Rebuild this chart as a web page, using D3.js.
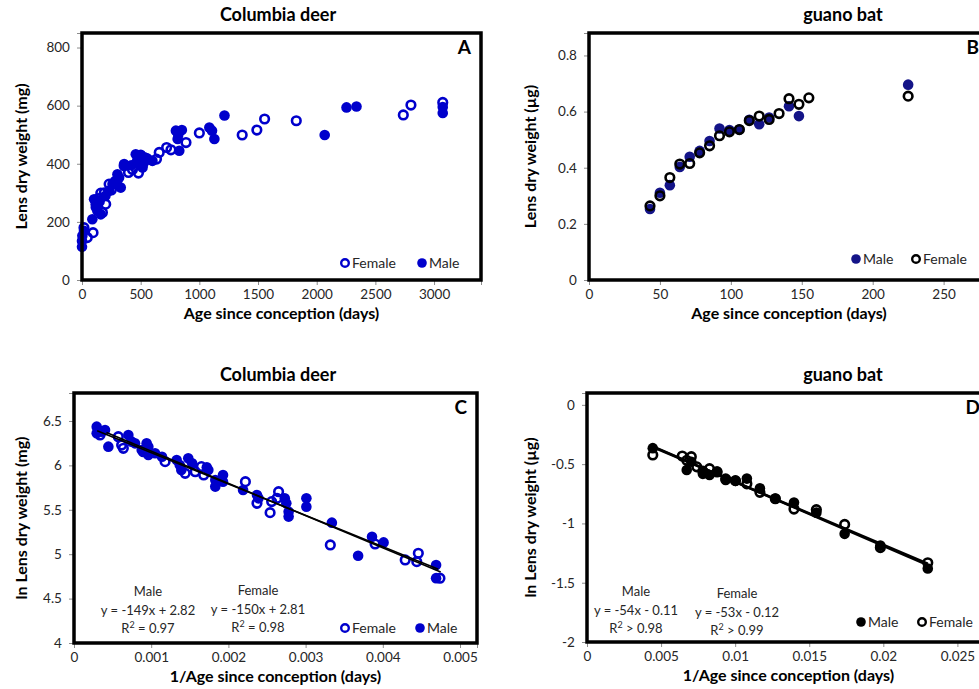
<!DOCTYPE html>
<html>
<head>
<meta charset="utf-8">
<script src="https://cdn.jsdelivr.net/npm/d3@7"></script>
<style>
  body { margin: 0; background: #fff; }
  text { font-family: Lato, "Open Sans", sans-serif; }
  .tick text { font-size: 13.5px; fill: #262626; }
  .tick line, .domain { stroke: #8c8c8c; }
</style>
</head>
<body>
<div id="chart"></div>
<script>
// ---- data: Columbia deer, lens dry weight (mg) vs age since conception (days)
var deerMaleAge   = [0, 0, 3, 17, 88, 103, 117, 131, 150, 160, 200, 231, 260, 280, 302, 316, 330, 359, 420, 458, 470, 487, 501, 516, 530, 550, 600, 800, 815, 820, 829, 851, 1085, 1108, 1128, 1214, 2068, 2254, 2339, 3074, 3074];
var deerMaleLens  = [114, 134, 152, 169, 209, 278, 261, 238, 270, 226, 290, 307, 330, 340, 364, 353, 318, 399, 395, 433, 410, 399, 431, 387, 422, 420, 410, 514, 485, 500, 445, 516, 525, 514, 485, 566, 499, 594, 597, 595, 575];
var deerFemaleAge  = [17, 45, 94, 120, 140, 160, 174, 190, 202, 231, 250, 300, 359, 396, 430, 481, 520, 560, 635, 658, 721, 758, 886, 1000, 1365, 1490, 1556, 1826, 2738, 2803, 3074];
var deerFemaleLens = [180, 146, 163, 250, 280, 299, 232, 300, 261, 330, 310, 345, 393, 370, 380, 368, 400, 415, 416, 439, 456, 448, 473, 506, 499, 516, 554, 548, 568, 602, 611];

// ---- data: guano bat, lens dry weight (ug) vs age since conception (days)
var batAge        = [43, 50, 57, 64, 71, 78, 85, 92, 99, 106, 113, 120, 127, 134, 141, 148, 155, 225];
var batMaleLens   = [0.253, 0.311, 0.338, 0.403, 0.439, 0.46, 0.495, 0.54, 0.534, 0.536, 0.571, 0.555, 0.579, null, 0.619, 0.584, null, 0.696];
var batFemaleLens = [0.264, 0.30, 0.365, 0.413, 0.415, 0.453, 0.478, 0.514, 0.528, 0.536, 0.568, 0.584, 0.572, 0.593, 0.646, 0.626, 0.649, 0.655];

// ---- data: Columbia deer, ln lens vs 1/age
var deerInvMale = [0.000294, 0.000311, 0.000294, 0.000358, 0.000402, 0.000445, 0.000704, 0.000747, 0.00079, 0.000877, 0.000941, 0.000963, 0.000963, 0.00105, 0.00114, 0.00133, 0.00137, 0.00139, 0.00148, 0.00153, 0.00172, 0.00174, 0.00183, 0.00183, 0.00193, 0.00193, 0.00219, 0.00237, 0.00239, 0.00273, 0.00275, 0.00278, 0.00278, 0.00301, 0.00301, 0.00334, 0.00368, 0.00386, 0.00401, 0.00469, 0.00469];
var deerLnMale  = [6.436, 6.399, 6.361, 6.38, 6.399, 6.211, 6.342, 6.267, 6.248, 6.173, 6.248, 6.211, 6.117, 6.136, 6.098, 6.06, 6.004, 5.948, 6.079, 6.023, 5.978, 5.948, 5.836, 5.761, 5.892, 5.817, 5.723, 5.667, 5.629, 5.629, 5.573, 5.479, 5.423, 5.629, 5.535, 5.355, 4.983, 5.197, 5.133, 4.878, 4.73];
var deerInvFemale = [0.000337, 0.000574, 0.000617, 0.000639, 0.000898, 0.00118, 0.00144, 0.00157, 0.00165, 0.00168, 0.00222, 0.00237, 0.00254, 0.00256, 0.00265, 0.00263, 0.00332, 0.0039, 0.00429, 0.00444, 0.00446, 0.00474];
var deerLnFemale  = [6.342, 6.323, 6.229, 6.192, 6.154, 6.042, 5.911, 5.929, 5.986, 5.892, 5.817, 5.573, 5.468, 5.592, 5.704, 5.629, 5.104, 5.115, 4.935, 4.916, 5.01, 4.73];
// fitted lines as drawn [x1, y1, x2, y2]
var deerLineMale   = [0.0003, 6.39, 0.00472, 4.83];
var deerLineFemale = [0.00042, 6.37, 0.00475, 4.80];

// ---- data: guano bat, ln lens vs 1/age
var batInv      = [0.0230, 0.0198, 0.01739, 0.01548, 0.01397, 0.01271, 0.01167, 0.01079, 0.01002, 0.00936, 0.00878, 0.00827, 0.00782, 0.00741, 0.00704, 0.00673, 0.00643, 0.00444];
var batLnMale   = [-1.38, -1.187, -1.088, -0.909, -0.823, -0.79, -0.703, -0.622, -0.641, -0.633, -0.563, -0.591, -0.582, null, -0.48, -0.549, null, -0.365];
var batLnFemale = [-1.332, -1.204, -1.008, -0.884, -0.879, -0.792, -0.738, -0.666, -0.639, -0.624, -0.566, -0.538, -0.559, -0.523, -0.437, -0.468, -0.432, -0.423];
// regression: slope, intercept
var batFitMale   = [-54, -0.11];
var batFitFemale = [-53, -0.12];

var blue = "#0000cc", navy = "#141488";

var svg = d3.select("#chart").append("svg")
    .attr("width", 979)
    .attr("height", 689);
svg.append("rect").attr("width", 979).attr("height", 689).attr("fill", "#fff");

// panel builder
function panel(cfg) {
    var x = d3.scaleLinear().domain(cfg.xDom).range([cfg.left, cfg.right]),
        y = d3.scaleLinear().domain(cfg.yDom).range([cfg.bottom, cfg.top]),
        g = svg.append("g");

    g.append("g")
        .attr("transform", "translate(0," + cfg.bottom + ")")
        .call(d3.axisBottom(x).tickValues(cfg.xTicks).tickSize(5).tickFormat(cfg.xFmt))
        .call(function(a) { a.selectAll("text").attr("dy", "0.85em"); });
    g.append("g")
        .attr("transform", "translate(" + cfg.left + ",0)")
        .call(d3.axisLeft(y).tickValues(cfg.yTicks).tickSize(5).tickFormat(cfg.yFmt))
        .call(function(a) { a.selectAll("text").attr("dx", "-0.3em"); });

    // title and axis labels
    g.append("text")
        .attr("x", cfg.titleX).attr("y", cfg.top - 12)
        .attr("text-anchor", "middle")
        .style("font-size", "18px").style("font-weight", "bold")
        .text(cfg.title);
    g.append("text")
        .attr("x", (cfg.left + cfg.right) / 2).attr("y", cfg.bottom + 39)
        .attr("text-anchor", "middle")
        .style("font-size", "16px").style("font-weight", "bold")
        .text(cfg.xTitle);
    g.append("text")
        .attr("transform", "translate(" + cfg.yTitleX + "," + (cfg.top + cfg.bottom) / 2 + ") rotate(-90)")
        .attr("text-anchor", "middle")
        .style("font-size", "16px").style("font-weight", "bold")
        .text(cfg.yTitle);

    // series
    cfg.series.forEach(function(s) {
        var pts = s.x.map(function(v, i) { return [v, s.y[i]]; })
            .filter(function(p) { return p[1] != null; });
        g.selectAll(null).data(pts).enter().append("circle")
            .attr("cx", function(d) { return x(d[0]); })
            .attr("cy", function(d) { return y(d[1]); })
            .attr("r", s.open ? 4.3 : 5.3)
            .attr("fill", s.open ? "none" : s.color)
            .attr("stroke", s.color)
            .attr("stroke-width", s.open ? 2.6 : 0);
    });

    (cfg.lines || []).forEach(function(l) {
        g.append("line")
            .attr("x1", x(l[0])).attr("y1", y(l[1]))
            .attr("x2", x(l[2])).attr("y2", y(l[3]))
            .attr("stroke", "#000").attr("stroke-width", cfg.lineWidth || 2);
    });

    // frame
    g.append("rect")
        .attr("x", cfg.left).attr("y", cfg.top)
        .attr("width", cfg.right - cfg.left).attr("height", cfg.bottom - cfg.top)
        .attr("fill", "none").attr("stroke", "#000").attr("stroke-width", 3.5);

    g.append("text")
        .attr("x", cfg.right - 10).attr("y", cfg.top + 21)
        .attr("text-anchor", "end")
        .style("font-size", "19px").style("font-weight", "bold")
        .text(cfg.letter);

    // legend
    cfg.legend.forEach(function(it) {
        g.append("circle")
            .attr("cx", it.x).attr("cy", cfg.legendY)
            .attr("r", it.open ? 3.8 : 4.8)
            .attr("fill", it.open ? "#fff" : it.color)
            .attr("stroke", it.color)
            .attr("stroke-width", it.open ? 2.4 : 0);
        g.append("text")
            .attr("x", it.x + 7).attr("y", cfg.legendY + 5)
            .style("font-size", "14px").style("fill", "#262626")
            .text(it.label);
    });

    (cfg.notes || []).forEach(function(n) {
        n.lines.forEach(function(t, i) {
            var tx = g.append("text")
                .attr("x", n.x).attr("y", n.y + i * 18.5)
                .attr("text-anchor", "middle")
                .style("font-size", "13px").style("fill", "#262626");
            if (t.indexOf("R2") === 0) {
                tx.append("tspan").text("R");
                tx.append("tspan").attr("dy", -5).style("font-size", "9px").text("2");
                tx.append("tspan").attr("dy", 5).text(t.slice(2));
            } else {
                tx.text(t);
            }
        });
    });
    return g;
}

var fmtPlain = function(d) { return String(d); };

panel({
    left: 82, right: 481, top: 33, bottom: 280,
    xDom: [0, 3400], yDom: [0, 850],
    xTicks: [0, 500, 1000, 1500, 2000, 2500, 3000], yTicks: [0, 200, 400, 600, 800],
    xFmt: fmtPlain, yFmt: fmtPlain,
    title: "Columbia deer", titleX: 278,
    xTitle: "Age since conception (days)", yTitle: "Lens dry weight (mg)", yTitleX: 27,
    letter: "A",
    series: [
        {x: deerFemaleAge, y: deerFemaleLens, color: blue, open: true},
        {x: deerMaleAge, y: deerMaleLens, color: blue, open: false}
    ],
    legendY: 263,
    legend: [
        {x: 345, label: "Female", color: blue, open: true},
        {x: 422, label: "Male", color: blue, open: false}
    ]
});

panel({
    left: 589, right: 989, top: 33, bottom: 280,
    xDom: [0, 282], yDom: [0, 0.88],
    xTicks: [0, 50, 100, 150, 200, 250], yTicks: [0, 0.2, 0.4, 0.6, 0.8],
    xFmt: fmtPlain, yFmt: fmtPlain,
    title: "guano bat", titleX: 843,
    xTitle: "Age since conception (days)", yTitle: "Lens dry weight (\u00b5g)", yTitleX: 536,
    letter: "B",
    series: [
        {x: batAge, y: batMaleLens, color: navy, open: false},
        {x: batAge, y: batFemaleLens, color: "#000", open: true}
    ],
    legendY: 259,
    legend: [
        {x: 856, label: "Male", color: navy, open: false},
        {x: 916, label: "Female", color: "#000", open: true}
    ]
});

panel({
    left: 74, right: 477, top: 393, bottom: 643,
    xDom: [0, 0.00522], yDom: [4, 6.815],
    xTicks: [0, 0.001, 0.002, 0.003, 0.004, 0.005], yTicks: [4, 4.5, 5, 5.5, 6, 6.5],
    xFmt: fmtPlain, yFmt: fmtPlain,
    title: "Columbia deer", titleX: 278,
    xTitle: "1/Age since conception (days)", yTitle: "ln Lens dry weight (mg)", yTitleX: 27,
    letter: "C",
    series: [
        {x: deerInvFemale, y: deerLnFemale, color: blue, open: true},
        {x: deerInvMale, y: deerLnMale, color: blue, open: false}
    ],
    lines: [deerLineMale, deerLineFemale],
    lineWidth: 1.6,
    legendY: 628,
    legend: [
        {x: 345, label: "Female", color: blue, open: true},
        {x: 420, label: "Male", color: blue, open: false}
    ],
    notes: [
        {x: 148, y: 596, lines: ["Male", "y = -149x + 2.82", "R2 = 0.97"]},
        {x: 258, y: 595, lines: ["Female", "y = -150x + 2.81", "R2 = 0.98"]}
    ]
});

var batLines = [batFitMale, batFitFemale].map(function(f) {
    var x1 = d3.min(batInv), x2 = d3.max(batInv);
    return [x1, f[0] * x1 + f[1], x2, f[0] * x2 + f[1]];
});

panel({
    left: 587, right: 990, top: 393, bottom: 642,
    xDom: [0, 0.0272], yDom: [-2, 0.1],
    xTicks: [0, 0.005, 0.01, 0.015, 0.02, 0.025], yTicks: [-2, -1.5, -1, -0.5, 0],
    xFmt: fmtPlain, yFmt: fmtPlain,
    title: "guano bat", titleX: 843,
    xTitle: "1/Age since conception (days)", yTitle: "ln Lens dry weight (\u00b5g)", yTitleX: 536,
    letter: "D",
    series: [
        {x: batInv, y: batLnMale, color: "#000", open: false},
        {x: batInv, y: batLnFemale, color: "#000", open: true}
    ],
    lines: batLines,
    lineWidth: 2.5,
    legendY: 622,
    legend: [
        {x: 861, label: "Male", color: "#000", open: false},
        {x: 922, label: "Female", color: "#000", open: true}
    ],
    notes: [
        {x: 636, y: 596, lines: ["Male", "y = -54x - 0.11", "R2 > 0.98"]},
        {x: 737, y: 598, lines: ["Female", "y = -53x - 0.12", "R2 > 0.99"]}
    ]
});
</script>
</body>
</html>
